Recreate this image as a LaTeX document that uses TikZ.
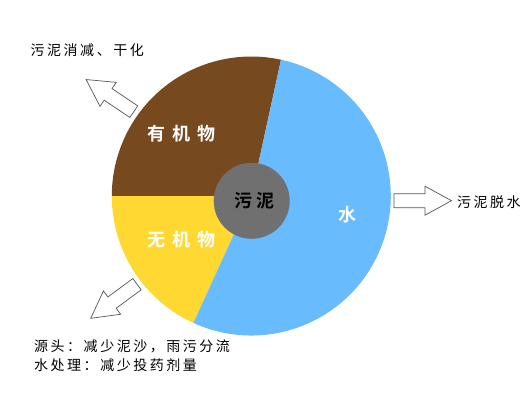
\documentclass[tikz,border=0pt]{standalone}
\usepackage{fontspec}
\usetikzlibrary{positioning}
\newfontfamily\notefont[LetterSpace=18]{Noto Sans CJK SC}
\newfontfamily\sectorfont[LetterSpace=38]{Noto Sans CJK SC Bold}
\newfontfamily\corefont[LetterSpace=25]{Noto Sans CJK SC Bold}
\definecolor{organic}{HTML}{76491F}
\definecolor{inorganic}{HTML}{FFD932}
\definecolor{water}{HTML}{68BBFD}
\definecolor{core}{HTML}{707070}
\definecolor{outline}{HTML}{555555}

\begin{document}
\begin{tikzpicture}[
    x=1pt, y=1pt,
    sector/.style={text=white, inner sep=0pt, font=\sectorfont\fontsize{18}{18}\selectfont},
    note/.style={anchor=west, inner sep=0pt, align=left, font=\notefont\fontsize{14}{18.4}\selectfont},
    hollow arrow/.pic={\draw[outline, fill=white, line width=0.7pt, line join=miter]
        (0,-7) -- (31,-7) -- (31,-14.5) -- (57.5,0) -- (31,14.5) -- (31,7) -- (0,7) -- cycle;}
]
    \useasboundingbox (0,0) rectangle (531,400);
    \coordinate (ctr) at (251.3,204);

    % pie
    \fill[organic] (ctr) -- ++(77.7:139.5pt) arc (77.7:180:139.5pt) -- cycle;
    \fill[inorganic] (ctr) -- ++(180:139.5pt) arc (180:245.5:139.5pt) -- cycle;
    \fill[water] (ctr) -- ++(245.5:139.5pt) arc (245.5:437.7:139.5pt) -- cycle;
    \fill[core] (251.7,199.2) circle[radius=38pt];

    \node[sector] (organicLbl) at (181.5,266.7) {有机物};
    \node[sector] (inorganicLbl) at (181.5,160) {无机物};
    \node[sector] (waterLbl) at (347,185.3) {水};
    \node[inner sep=0pt, font=\corefont\fontsize{18}{18}\selectfont] (sludge) at (254.5,199.5) {污泥};

    % outlets
    \pic[rotate=146] at (133.8,288.3) {hollow arrow};
    \pic at (394,199.3) {hollow arrow};
    \pic[rotate=216.4] at (137,115.8) {hollow arrow};

    \node[note] (reduceLbl) at (30.5,350) {污泥消减、干化};
    \node[note] (dewaterLbl) at (457,198.3) {污泥脱水};
    \node[note, anchor=north west] (sourceLbl) at (34,60) {源头：减少泥沙，雨污分流\\水处理：减少投药剂量};
\end{tikzpicture}
\end{document}
